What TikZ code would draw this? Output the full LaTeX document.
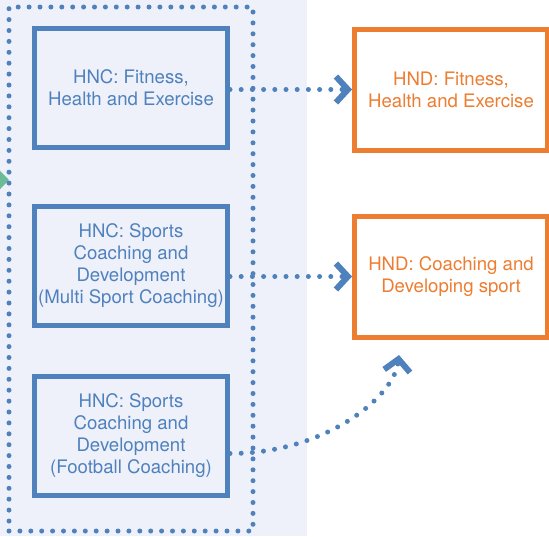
\documentclass[tikz,border=0pt]{standalone}
\usepackage{fontspec}
\setmainfont{TeX Gyre Heros}
\usetikzlibrary{arrows.meta}
\definecolor{hncblue}{RGB}{79,129,189}
\definecolor{hndorange}{RGB}{237,125,49}
\definecolor{panel}{RGB}{238,241,250}
\definecolor{feedgreen}{RGB}{107,187,150}
\begin{document}
\begin{tikzpicture}[x=1pt, y=-1pt,
        hnc/.style={draw=hncblue, line width=5pt, text=hncblue, minimum width=193pt, minimum height=119pt, align=center, font=\fontsize{18.6}{22}\selectfont},
        hnd/.style={hnc, draw=hndorange, text=hndorange, fill=white, minimum height=121pt},
        panelbox/.style={draw=hncblue, line width=5pt, line cap=round, dash pattern=on 0pt off 10.9pt, minimum width=244pt, minimum height=524pt},
        link/.style={hncblue, line width=5pt, line cap=round, dash pattern=on 0pt off 11.2pt, -{Straight Barb[length=12pt, width=26pt, line width=6pt]}}]
            \useasboundingbox (0,0) rectangle (549,536);
            \fill[panel] (0,0) rectangle (307,536);

            \draw[feedgreen, line width=3pt, shorten >=-1pt, -{Triangle[length=10pt, width=20pt]}] (-40,180) coordinate (feed) -- (feed -| 8,0);
            \node[panelbox] (grp) at (131,269) {};
            \node[hnc] (hnc1) at (131,88) {HNC: Fitness,\\Health and Exercise};
            \node[hnc] (hnc2) at (131,265.5) {HNC: Sports\\Coaching and\\Development\\(Multi Sport Coaching)};
            \node[hnc] (hnc3) at (131,435.5) {HNC: Sports\\Coaching and\\Development\\(Football Coaching)};
            \node[hnd] (hnd1) at (451,89.5) {HND: Fitness,\\Health and Exercise};
            \node[hnd] (hnd2) at (451,276.5) {HND: Coaching and\\Developing sport};
            \coordinate (tip3) at (399,355);

            \draw[link] (hnc1.east |- hnd1.west) -- (hnd1.west);
            \draw[link] (hnc2.east |- hnd2.west) -- (hnd2.west);
            \draw[link] ([yshift=-18pt]hnc3.east) .. controls +(95,0) and +(-5,42) .. (tip3);
        \end{tikzpicture}
\end{document}
